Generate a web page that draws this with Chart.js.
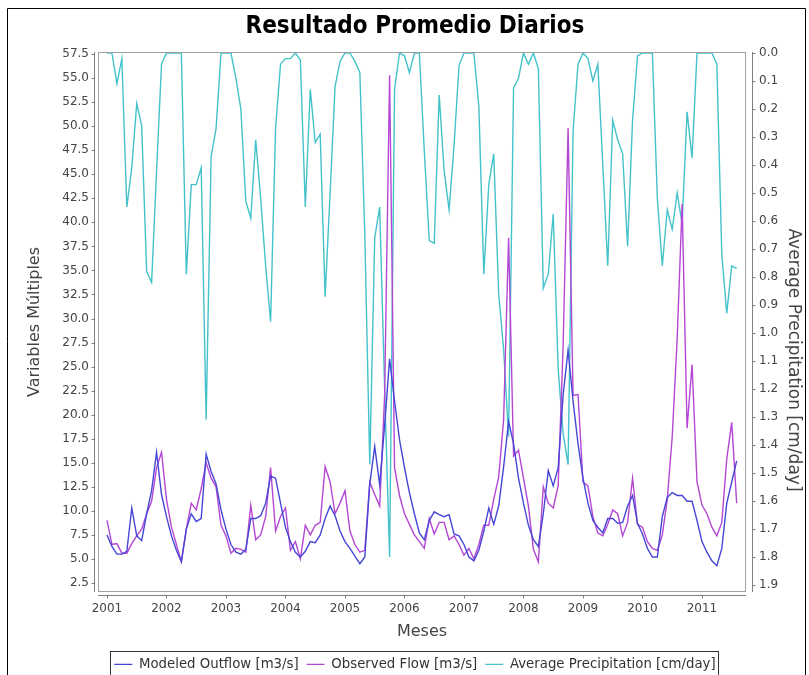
<!DOCTYPE html>
<html>
<head>
<meta charset="utf-8">
<title>Resultado Promedio Diarios</title>
<script src="https://cdn.jsdelivr.net/npm/chart.js@4.4.1/dist/chart.umd.min.js"></script>
<style>
  html, body { margin: 0; padding: 0; background: #ffffff; }
  #chart { display: block; }
</style>
</head>
<body>
<canvas id="chart" width="809" height="675"></canvas>
<script>
// Serie mensual: enero 2001 .. agosto 2011
const START_YEAR = 2001;
const YEARS = [2001, 2002, 2003, 2004, 2005, 2006, 2007, 2008, 2009, 2010, 2011];
const LEFT_TICKS = [2.5, 5.0, 7.5, 10.0, 12.5, 15.0, 17.5, 20.0, 22.5, 25.0, 27.5, 30.0,
                    32.5, 35.0, 37.5, 40.0, 42.5, 45.0, 47.5, 50.0, 52.5, 55.0, 57.5];
const RIGHT_TICKS = [0.0, 0.1, 0.2, 0.3, 0.4, 0.5, 0.6, 0.7, 0.8, 0.9, 1.0,
                     1.1, 1.2, 1.3, 1.4, 1.5, 1.6, 1.7, 1.8, 1.9];

const MODELED = [
    7.5, 6.3, 5.5, 5.5, 5.8, 10.3, 7.4, 6.9, 9.7, 12.1, 16.1, 11.7,
    9.4, 7.4, 5.9, 4.7, 8.1, 9.7, 8.9, 9.2, 15.9, 14.1, 12.8, 10.1,
    8.1, 6.5, 5.7, 5.5, 6.0, 9.2, 9.2, 9.5, 10.8, 13.6, 13.4, 10.8,
    8.3, 6.8, 5.7, 5.2, 5.8, 6.8, 6.7, 7.5, 9.2, 10.5, 9.5, 7.9,
    6.8, 6.1, 5.3, 4.5, 5.2, 12.8, 16.7, 12.7, 18.9, 25.8, 21.4, 17.4,
    14.5, 11.9, 9.7, 7.7, 7.0, 9.0, 9.9, 9.6, 9.4, 9.6, 7.6, 7.4,
    6.5, 5.2, 4.8, 5.9, 7.9, 10.3, 8.6, 10.5, 14.6, 19.3, 17.0, 13.4,
    10.8, 8.5, 7.0, 6.3, 9.7, 14.2, 12.6, 14.5, 22.1, 26.7, 21.4, 17.0,
    13.4, 10.8, 9.0, 8.3, 7.7, 9.2, 9.2, 8.7, 8.8, 10.5, 11.6, 8.7,
    7.6, 6.1, 5.2, 5.2, 9.4, 11.4, 11.9, 11.6, 11.6, 11.0, 11.0, 9.0,
    6.8, 5.7, 4.8, 4.3, 6.1, 10.8, 13.0, 15.2
];

const OBSERVED = [
    9.0, 6.5, 6.6, 5.6, 5.6, 6.6, 7.4, 8.1, 9.7, 11.0, 14.5, 16.1,
    11.2, 8.3, 6.5, 4.7, 8.1, 10.8, 10.1, 12.3, 15.0, 13.4, 12.5, 8.5,
    7.4, 5.6, 6.1, 6.0, 5.7, 10.6, 7.0, 7.5, 9.4, 14.5, 7.9, 9.4,
    10.3, 5.9, 6.8, 5.0, 8.5, 7.5, 8.5, 8.8, 14.6, 13.0, 9.7, 10.8,
    12.1, 7.9, 6.5, 5.7, 5.9, 13.0, 11.7, 10.5, 22.0, 55.3, 14.5, 11.6,
    9.7, 8.6, 7.5, 6.8, 6.1, 9.2, 7.6, 8.8, 8.8, 7.0, 7.4, 6.5,
    5.4, 6.1, 5.0, 6.5, 8.5, 8.5, 11.2, 13.5, 19.5, 38.4, 15.7, 16.3,
    13.4, 10.5, 6.0, 4.7, 12.5, 10.8, 10.3, 12.6, 27.2, 49.8, 22.0, 22.1,
    13.0, 12.6, 9.4, 7.7, 7.4, 8.6, 10.1, 9.7, 7.4, 8.8, 13.4, 8.6,
    8.3, 6.8, 6.1, 5.9, 7.5, 11.2, 17.7, 27.9, 41.9, 18.6, 25.2, 13.0,
    10.6, 9.7, 8.3, 7.4, 8.8, 15.4, 19.2, 10.8
];

const PRECIP = [
    0.0, 0.0, 0.11, 0.02, 0.55, 0.41, 0.18, 0.26, 0.78, 0.82, 0.42, 0.04,
    0.0, 0.0, 0.0, 0.0, 0.79, 0.47, 0.47, 0.41, 1.31, 0.37, 0.27, 0.0,
    0.0, 0.0, 0.09, 0.20, 0.53, 0.59, 0.31, 0.52, 0.76, 0.96, 0.27, 0.04,
    0.02, 0.02, 0.0, 0.025, 0.55, 0.13, 0.32, 0.29, 0.87, 0.50, 0.12, 0.03,
    0.0, 0.0, 0.03, 0.07, 0.65, 1.47, 0.66, 0.55, 1.20, 1.80, 0.13, 0.0,
    0.01, 0.07, 0.0, 0.0, 0.35, 0.67, 0.68, 0.15, 0.42, 0.56, 0.33, 0.045,
    0.0, 0.0, 0.0, 0.19, 0.79, 0.47, 0.36, 0.86, 1.06, 1.37, 0.125, 0.09,
    0.0, 0.04, 0.0, 0.056, 0.84, 0.79, 0.575, 1.13, 1.36, 1.47, 0.28, 0.04,
    0.0, 0.02, 0.10, 0.04, 0.40, 0.76, 0.24, 0.31, 0.36, 0.69, 0.24, 0.01,
    0.0, 0.0, 0.0, 0.52, 0.76, 0.56, 0.63, 0.50, 0.61, 0.21, 0.375, 0.0,
    0.0, 0.0, 0.0, 0.04, 0.72, 0.93, 0.76, 0.77
];

const FONT = 'DejaVu Sans';
const RIGHT_TITLE = 'Average Precipitation [cm/day]';
const toPoints = arr => arr.map((v, i) => ({ x: START_YEAR + i / 12, y: v }));

// ── marco estilo JFreeChart: borde del plot, ejes desplazados, caja de leyenda ──
const framePlugin = {
    id: 'frame',
    afterDatasetsDraw(chart) {
        const { ctx, chartArea: a } = chart;
        ctx.save();
        ctx.strokeStyle = '#a0a0a0';
        ctx.lineWidth = 1;
        ctx.strokeRect(a.left + 0.5, a.top + 0.5, a.right - a.left - 1, a.bottom - a.top - 1);
        ctx.restore();
    },
    afterDraw(chart) {
        const { ctx, chartArea: a, scales } = chart;
        ctx.save();
        ctx.strokeStyle = '#808080';
        ctx.lineWidth = 1;
        ctx.beginPath();
        // eje izquierdo
        const lx = a.left - 3.5;
        ctx.moveTo(lx, a.top); ctx.lineTo(lx, a.bottom);
        scales.y.ticks.forEach(t => {
            const py = Math.round(scales.y.getPixelForValue(t.value)) + 0.5;
            ctx.moveTo(lx, py); ctx.lineTo(lx - 3, py);
        });
        // eje derecho
        const rx = a.right + 6.5;
        ctx.moveTo(rx, a.top); ctx.lineTo(rx, a.bottom);
        scales.y2.ticks.forEach(t => {
            const py = Math.round(scales.y2.getPixelForValue(t.value)) + 0.5;
            ctx.moveTo(rx, py); ctx.lineTo(rx + 3, py);
        });
        // eje inferior
        const by = a.bottom + 3.5;
        ctx.moveTo(a.left, by); ctx.lineTo(a.right, by);
        scales.x.ticks.forEach(t => {
            const px = Math.round(scales.x.getPixelForValue(t.value)) + 0.5;
            ctx.moveTo(px, by); ctx.lineTo(px, by + 3);
        });
        ctx.stroke();

        // título del eje derecho (algo desplazado hacia abajo, como en el original)
        ctx.save();
        ctx.translate(793, 360);
        ctx.rotate(Math.PI / 2);
        ctx.fillStyle = '#444444';
        ctx.font = `17px "${FONT}"`;
        ctx.textAlign = 'center';
        ctx.textBaseline = 'middle';
        ctx.fillText(RIGHT_TITLE, 0, 0);
        ctx.restore();

        // caja de la leyenda
        const hb = chart.legend.legendHitBoxes;
        if (hb && hb.length) {
            const first = hb[0], last = hb[hb.length - 1];
            ctx.strokeStyle = '#333333';
            ctx.strokeRect(Math.round(first.left) - 3.5, Math.round(first.top) - 6.5,
                Math.round(last.left + last.width - first.left) + 7, first.height + 13);
        }

        // borde exterior del panel
        ctx.strokeStyle = '#000000';
        ctx.beginPath();
        ctx.moveTo(7.5, 675); ctx.lineTo(7.5, 8.5); ctx.lineTo(805.5, 8.5); ctx.lineTo(805.5, 675);
        ctx.stroke();
        ctx.restore();
    }
};

new Chart(document.getElementById('chart'), {
    type: 'line',
    data: {
        datasets: [
            {
                label: 'Modeled Outflow [m3/s]',
                data: toPoints(MODELED),
                yAxisID: 'y',
                borderColor: '#4646d6',
                borderWidth: 1.4, pointRadius: 0, tension: 0,
            },
            {
                label: 'Observed Flow [m3/s]',
                data: toPoints(OBSERVED),
                yAxisID: 'y',
                borderColor: '#b446d4',
                borderWidth: 1.4, pointRadius: 0, tension: 0,
            },
            {
                label: RIGHT_TITLE,
                data: toPoints(PRECIP),
                yAxisID: 'y2',
                borderColor: '#44c2ca',
                borderWidth: 1.4, pointRadius: 0, tension: 0,
            },
        ],
    },
    options: {
        responsive: false, animation: false,
        layout: { padding: { left: 21, right: 0, top: 0, bottom: -6 } },
        plugins: {
            title: {
                display: true,
                text: 'Resultado Promedio Diarios',
                color: '#000000',
                font: { family: 'DejaVu Sans Condensed', size: 24, weight: 'bold', lineHeight: 1.2 },
                padding: { top: 12.6, bottom: 10.6 },
            },
            legend: {
                position: 'bottom',
                labels: {
                    usePointStyle: true, pointStyle: 'line', pointStyleWidth: 18,
                    color: '#333333', padding: 8,
                    font: { family: FONT, size: 13.3 },
                },
            },
            tooltip: { enabled: false },
        },
        scales: {
            x: {
                type: 'linear',
                min: 2000.849, max: 2011.74,
                afterBuildTicks: s => { s.ticks = YEARS.map(v => ({ value: v })); },
                afterFit: s => { s.height = 57.7; },
                grid: { display: false, drawTicks: false },
                border: { display: false },
                ticks: {
                    callback: v => String(v), autoSkip: false, maxRotation: 0,
                    padding: 10, color: '#444444', font: { family: FONT, size: 12 },
                },
                title: {
                    display: true, text: 'Meses', color: '#444444',
                    font: { family: FONT, size: 16 }, padding: { top: 0, bottom: 7.8 },
                },
            },
            y: {
                position: 'left',
                min: 1.564, max: 57.71,
                afterBuildTicks: s => { s.ticks = LEFT_TICKS.map(v => ({ value: v })); },
                afterFit: s => { s.width = 77; },
                grid: { display: false, drawTicks: false },
                border: { display: false },
                ticks: {
                    callback: v => v.toFixed(1), autoSkip: false,
                    padding: 9, color: '#444444', font: { family: FONT, size: 12 },
                },
                title: {
                    display: true, text: 'Variables Múltiples', color: '#444444',
                    font: { family: FONT, size: 16 }, padding: { top: 4.4, bottom: 0 },
                },
            },
            y2: {
                position: 'right',
                reverse: true,
                min: -0.0036, max: 1.925,
                afterBuildTicks: s => { s.ticks = RIGHT_TICKS.map(v => ({ value: v })); },
                afterFit: s => { s.width = 63; },
                grid: { display: false, drawTicks: false },
                border: { display: false },
                ticks: {
                    callback: v => v.toFixed(1), autoSkip: false,
                    padding: 13, color: '#444444', font: { family: FONT, size: 12 },
                },
                title: { display: false },
            },
        },
    },
    plugins: [framePlugin],
});
</script>
</body>
</html>
